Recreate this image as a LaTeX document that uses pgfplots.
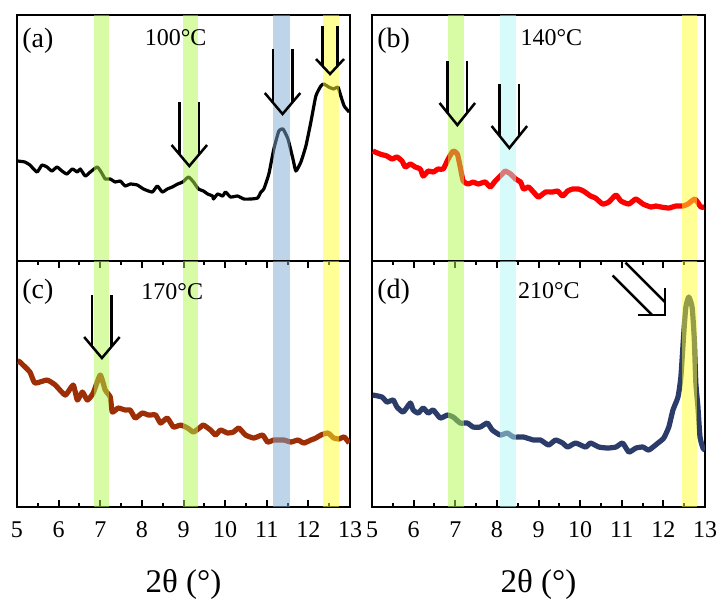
\documentclass[border=0pt]{standalone}
\usepackage{fontspec}
\setmainfont{Liberation Serif}
\usepackage{pgfplots}
\usepackage{pgfplotstable}
\pgfplotsset{compat=1.18}
\usepgfplotslibrary{groupplots}

\definecolor{bgreen}{RGB}{177,249,75}
\definecolor{bblue}{RGB}{125,169,209}
\definecolor{byellow}{RGB}{255,255,45}
\definecolor{bcyan}{RGB}{175,245,245}
\definecolor{cred}{RGB}{255,0,0}
\definecolor{cbrown}{RGB}{158,46,5}
\definecolor{cnavy}{RGB}{43,60,107}

\pgfplotstableread{
x y
5.02 100
5.19 99
5.31 96
5.48 89
5.60 96
5.72 94
5.84 90
5.96 94
6.08 90
6.20 87
6.33 92
6.45 89
6.52 92
6.64 85
6.76 89
6.93 94
7.05 87
7.12 82
7.24 82
7.36 79
7.48 80
7.60 75
7.72 77
7.89 76
8.04 72
8.25 69
8.37 75
8.49 69
8.61 72
8.73 74
8.86 77
8.98 79
9.12 84
9.24 79
9.36 72
9.48 70
9.58 67
9.70 65
9.72 62
9.82 67
9.94 65
10.01 69
10.13 64
10.30 65
10.45 62
10.61 62
10.78 63
10.86 69
10.93 72
11.05 87
11.17 112
11.29 130
11.39 132
11.51 122
11.63 102
11.70 90
11.82 99
11.94 115
12.06 139
12.18 165
12.30 175
12.37 177
12.49 174
12.61 172
12.71 174
12.78 165
12.86 155
12.98 149
}\dataA

\pgfplotstableread{
x y
5.02 110
5.19 107
5.36 105
5.48 102
5.60 104
5.72 100
5.80 94
5.92 97
6.04 94
6.16 92
6.23 85
6.35 90
6.47 89
6.59 92
6.71 92
6.83 102
6.95 110
7.05 107
7.12 94
7.19 80
7.31 77
7.43 79
7.55 77
7.72 79
7.84 74
7.96 80
8.13 87
8.20 90
8.33 87
8.45 82
8.57 79
8.64 72
8.76 74
8.88 69
9.00 64
9.17 69
9.34 69
9.46 70
9.58 65
9.70 70
9.82 72
9.96 72
10.08 70
10.25 65
10.37 63
10.54 57
10.69 59
10.86 66
10.98 60
11.17 57
11.34 62
11.51 57
11.70 54
11.82 55
11.94 54
12.13 53
12.30 55
12.47 55
12.59 57
12.76 62
12.90 54
12.98 54
}\dataB

\pgfplotstableread{
x y
5.02 146
5.07 145
5.31 135
5.43 124
5.72 127
5.92 122
6.16 112
6.35 122
6.45 107
6.57 115
6.69 107
6.83 114
7.00 132
7.12 117
7.24 110
7.29 95
7.43 99
7.60 97
7.72 97
7.84 89
8.01 94
8.16 92
8.33 92
8.45 84
8.61 89
8.76 80
8.93 82
9.10 79
9.24 75
9.41 80
9.48 82
9.65 77
9.77 72
9.89 77
10.06 74
10.20 75
10.33 79
10.49 72
10.69 69
10.90 72
11.02 65
11.17 67
11.41 67
11.58 65
11.75 67
11.89 64
12.06 67
12.18 69
12.30 72
12.47 74
12.61 69
12.73 68
12.86 70
12.98 64
}\dataC

\pgfplotstableread{
x y
5.02 112
5.24 110
5.36 105
5.51 107
5.60 100
5.75 95
5.92 104
5.99 97
6.11 94
6.23 99
6.35 94
6.47 97
6.64 89
6.81 92
6.95 90
7.12 84
7.29 84
7.43 80
7.60 80
7.77 84
7.89 77
8.08 72
8.25 74
8.40 70
8.64 70
8.88 67
9.05 67
9.24 62
9.41 67
9.58 64
9.70 60
9.89 64
10.13 60
10.25 64
10.45 60
10.66 59
10.86 60
11.02 64
11.17 55
11.34 59
11.51 60
11.65 57
11.87 64
12.01 69
12.13 80
12.23 97
12.35 110
12.42 130
12.49 174
12.54 200
12.61 210
12.69 200
12.74 170
12.78 124
12.83 100
12.88 70
12.95 59
13.00 57
}\dataD

\tikzset{
  arr/.style={line width=1.25pt, black, line cap=butt, line join=miter},
  lbl/.style={font=\fontsize{14}{16}\selectfont, anchor=west, inner sep=0pt},
  tmp/.style={font=\fontsize{12}{14}\selectfont, anchor=center, inner sep=0pt},
}
% vertical open arrow: x, tip y, shaft half width, head half width, head height, shaft top, meeting height (pt)
\newcommand{\varrow}[7]{%
  \draw[arr] ([shift={(-#4pt,#5pt)}]axis cs:#1,#2) -- (axis cs:#1,#2) -- ([shift={(#4pt,#5pt)}]axis cs:#1,#2);
  \draw[arr] ([shift={(-#3pt,#6pt)}]axis cs:#1,#2) -- ([shift={(-#3pt,#7pt)}]axis cs:#1,#2);
  \draw[arr] ([shift={(#3pt,#6pt)}]axis cs:#1,#2) -- ([shift={(#3pt,#7pt)}]axis cs:#1,#2);
}
\newcommand{\band}[3]{%
  \fill[#1, opacity=0.5] (axis cs:#2,0) rectangle (axis cs:#3,246);
}

\pgfplotsset{
  panel/.style={
    width=166.5pt, height=123pt, scale only axis,
    xmin=5, xmax=13, ymin=0, ymax=246,
    ytick=\empty,
    axis line style={line width=1.25pt},
    every tick/.style={line width=1pt, black},
    major tick length=3.5pt, minor tick length=2pt,
    tick align=inside,
    ticklabel style={font=\fontsize{12}{14}\selectfont, inner sep=0pt},
    /pgf/number format/assume math mode=true,
    xlabel style={font=\fontsize{16.5}{18}\selectfont, at={(axis description cs:0.5,0)}, anchor=center, inner sep=0pt, yshift=-38.5pt},
    every x tick label/.append style={yshift=-7pt},
  },
  toppanel/.style={panel, xtick=\empty, minor xtick=\empty},
  botpanel/.style={panel, xtick={5,6,...,13}, minor x tick num=1, xlabel={2θ (°)}},
  curve/.style={line join=round, smooth, tension=0.3},
}

\begin{document}
\begin{tikzpicture}
\begin{groupplot}[group style={group size=2 by 2, horizontal sep=11pt, vertical sep=0pt, group name=G}]
% (a)
\nextgroupplot[toppanel]
\addplot[curve, black, line width=1.6pt] table[x=x,y=y] {\dataA};
\band{bgreen}{6.86}{7.22}
\band{bgreen}{8.98}{9.36}
\band{bblue}{11.15}{11.55}
\band{byellow}{12.35}{12.73}
\varrow{9.14}{95}{4.875}{8.875}{10.5}{32}{5.77}
\varrow{11.38}{147}{4.875}{8.875}{10.5}{32.5}{5.77}
\varrow{12.52}{187}{3.75}{7}{7.5}{24}{4.02}
\node[lbl] at (axis cs:5.12,220) {(a)};
\node[tmp] at (axis cs:8.81,223) {100°C};
% (b)
\nextgroupplot[toppanel]
\addplot[curve, cred, line width=2.6pt] table[x=x,y=y] {\dataB};
\band{bgreen}{6.83}{7.22}
\band{bcyan}{8.08}{8.47}
\band{byellow}{12.45}{12.81}
\varrow{7.05}{136}{4.875}{8.875}{11}{32}{6.04}
\varrow{8.30}{113}{4.875}{8.875}{11}{32}{6.04}
\node[lbl] at (axis cs:5.12,220) {(b)};
\node[tmp] at (axis cs:9.31,223) {140°C};
% (c)
\nextgroupplot[botpanel]
\addplot[curve, cbrown, line width=2.6pt] table[x=x,y=y] {\dataC};
\band{bgreen}{6.86}{7.22}
\band{bgreen}{8.98}{9.36}
\band{bblue}{11.15}{11.55}
\band{byellow}{12.35}{12.73}
\varrow{7.04}{149}{4.875}{8.875}{10.5}{31.5}{5.77}
\node[lbl] at (axis cs:5.12,215) {(c)};
\node[tmp] at (axis cs:8.73,215) {170°C};
% (d)
\nextgroupplot[botpanel]
\addplot[curve, cnavy, line width=2.6pt] table[x=x,y=y] {\dataD};
\band{bgreen}{6.83}{7.22}
\band{bcyan}{8.08}{8.47}
\band{byellow}{12.45}{12.81}
\draw[arr] ([shift={(0pt,13.5pt)}]axis cs:12.04,192) -- (axis cs:12.04,192) -- ([shift={(-13.5pt,0pt)}]axis cs:12.04,192);
\draw[arr] ([shift={(-19.8pt,26.2pt)}]axis cs:12.04,192) -- ([shift={(0pt,6.4pt)}]axis cs:12.04,192);
\draw[arr] ([shift={(-26.2pt,19.8pt)}]axis cs:12.04,192) -- ([shift={(-6.4pt,0pt)}]axis cs:12.04,192);
\node[lbl] at (axis cs:5.12,215) {(d)};
\node[tmp] at (axis cs:9.25,216) {210°C};
\end{groupplot}
\path ([shift={(-8.5pt,7.5pt)}]G c1r1.north west) -- ([shift={(6.5pt,-46pt)}]G c2r2.south east);
\end{tikzpicture}
\end{document}
